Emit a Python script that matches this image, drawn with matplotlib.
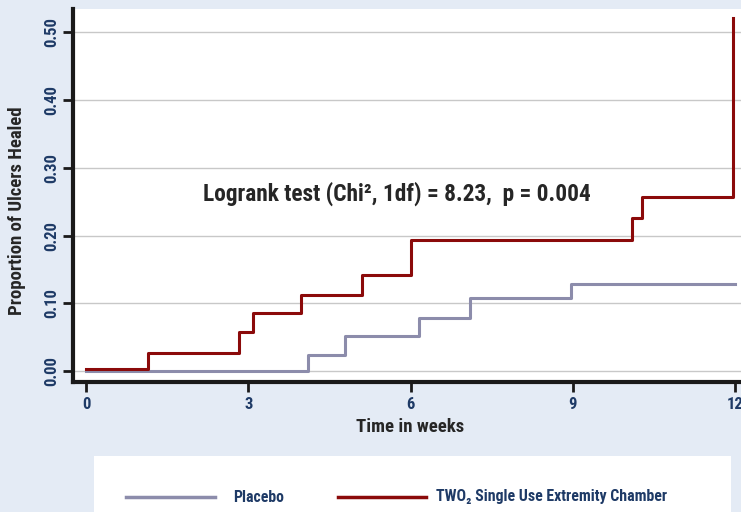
import matplotlib
matplotlib.use("Agg")
import matplotlib.pyplot as plt
from matplotlib.lines import Line2D
from matplotlib.patches import Rectangle
from matplotlib import font_manager as fm

# Data (Kaplan-Meier style step curves)
two2_t = [0.0, 1.15, 2.83, 3.09, 3.97, 5.11, 6.0, 10.1, 10.28, 11.97]
two2_y = [0.003, 0.027, 0.057, 0.085, 0.113, 0.142, 0.1935, 0.2255, 0.2575, 0.521]
plac_t = [0.0, 4.10, 4.79, 6.16, 7.10, 8.96, 12.0]
plac_y = [0.0, 0.023, 0.052, 0.078, 0.108, 0.1285, 0.1285]
xticks = [0, 3, 6, 9, 12]
yticks = [0.0, 0.1, 0.2, 0.3, 0.4, 0.5]
ytick_labels = ["0.00", "0.10", "0.20", "0.30", "0.40", "0.50"]
series_names = ["Placebo", "TWO\u2082 Single Use Extremity Chamber"]

BG = "#e4ebf5"
RED = "#8b0a0a"
PLAC = "#8c8cab"
NAVY = "#1e3a66"
DARK = "#262626"

names = {f.name for f in fm.fontManager.ttflist}
cands = ["Roboto Condensed", "Open Sans Condensed", "DejaVu Sans Condensed", "Liberation Sans Narrow"]
FONT = [c for c in cands if c in names] + ["DejaVu Sans"]
plt.rcParams["font.family"] = FONT
plt.rcParams["font.stretch"] = "condensed"

fig = plt.figure(figsize=(7.41, 5.12), dpi=100, facecolor=BG)
ax = fig.add_axes([73/741, (512-382)/512, (741-73)/741, (382-9)/512])
ax.set_facecolor("white")

ax.step(plac_t, plac_y, where="post", color=PLAC, lw=2.2, zorder=3)
ax.step(two2_t, two2_y, where="post", color=RED, lw=2.2, zorder=4)

ax.set_xlim(-0.24, 12.11)
ax.set_ylim(-0.0162, 0.5347)
ax.set_xticks(xticks)
ax.set_xticklabels([str(v) for v in xticks])
ax.set_yticks(yticks)
ax.set_yticklabels(ytick_labels, rotation=90, va="center")
ax.grid(axis="y", color="#c8c8c8", lw=1)
ax.set_axisbelow(True)
for s in ["top", "right"]:
    ax.spines[s].set_visible(False)
for s in ["left", "bottom"]:
    ax.spines[s].set_linewidth(3)
    ax.spines[s].set_color("#1a1a1a")
ax.tick_params(axis="both", length=7, width=2, color="#1a1a1a",
               labelcolor=NAVY, labelsize=12)
for lab in ax.get_xticklabels() + ax.get_yticklabels():
    lab.set_fontweight("bold")
ax.tick_params(axis="x", pad=4)
ax.tick_params(axis="y", pad=3)

ax.set_xlabel("Time in weeks", fontsize=13.5, fontweight="bold", color=DARK)
ax.set_ylabel("Proportion of Ulcers Healed", fontsize=13.5, fontweight="bold", color=DARK)
ax.xaxis.set_label_coords((410-73)/668, -(427-382)/373)
ax.yaxis.set_label_coords((17-73)/668, (382-211)/373)
ax.xaxis.label.set_va("center")
ax.yaxis.label.set_va("center")

ax.text(5.75, 0.262, "Logrank test (Chi\u00b2, 1df) = 8.23,  p = 0.004",
        ha="center", va="center", fontsize=16.8, fontweight="bold", color=DARK, zorder=5)

# Legend box
fig.patches.append(Rectangle((94/741, 0), (731-94)/741, (512-456)/512,
                             transform=fig.transFigure, facecolor="white",
                             edgecolor="none", zorder=0))
ly = (512-497)/512
fig.lines.append(Line2D([126/741, 215/741], [ly, ly], transform=fig.transFigure,
                        color=PLAC, lw=2.5))
fig.lines.append(Line2D([338/741, 426/741], [ly, ly], transform=fig.transFigure,
                        color=RED, lw=2.5))
fig.text(233/741, ly, series_names[0], ha="left", va="center", fontsize=11.4,
         fontweight="bold", color=NAVY)
fig.text(436/741, ly, series_names[1], ha="left", va="center", fontsize=11.4,
         fontweight="bold", color=NAVY)

fig.savefig("out.png", dpi=100, facecolor=BG)
